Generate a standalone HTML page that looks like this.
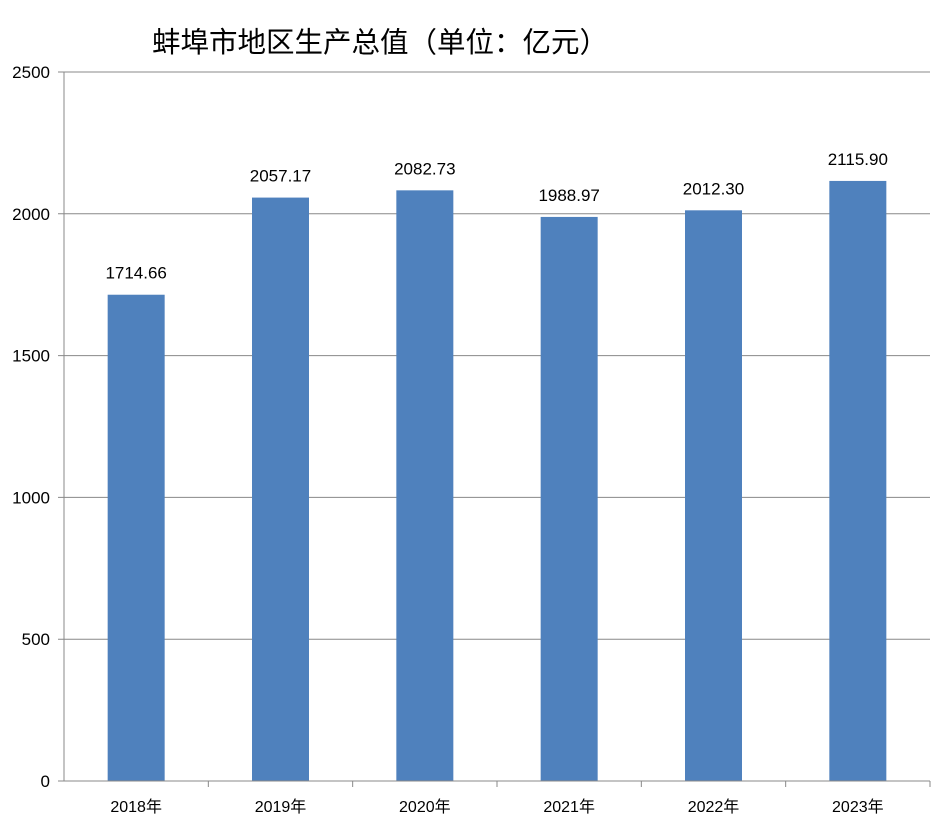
<!DOCTYPE html>
<html><head><meta charset="utf-8"><style>
body{margin:0;background:#fff;width:950px;height:832px;overflow:hidden}
svg text{font-family:"Liberation Sans","Noto Sans CJK SC",sans-serif}
</style></head><body>
<svg id="chart" width="950" height="832" xmlns="http://www.w3.org/2000/svg">
<text x="152" y="52" font-size="28.5" fill="#000">蚌埠市地区生产总值（单位：亿元）</text>
<g id="grid"></g><g id="bars"></g><g id="axes"></g>
</svg>
<script>
const categories=["2018年","2019年","2020年","2021年","2022年","2023年"];
const values=[1714.66,2057.17,2082.73,1988.97,2012.30,2115.90];
const valueLabels=["1714.66","2057.17","2082.73","1988.97","2012.30","2115.90"];
const yTicks=[0,500,1000,1500,2000,2500];
const NS="http://www.w3.org/2000/svg";
const x0=64,x1=930,yBase=781,yTop=72,yMax=2500;
const slot=(x1-x0)/categories.length;
const yS=v=>yBase-(v/yMax)*(yBase-yTop);
function mk(tag,attrs,parent,txt){const e=document.createElementNS(NS,tag);for(const k in attrs)e.setAttribute(k,attrs[k]);if(txt!==undefined)e.textContent=txt;document.getElementById(parent).appendChild(e);return e;}
yTicks.forEach(t=>{
 const y=yS(t);
 const g=mk('line',{x1:58,x2:x1,y1:y,y2:y,stroke:'#888','stroke-width':1},'grid');
 
 
 const l=mk('text',{x:50,y:y+6,'font-size':17,'text-anchor':'end',fill:'#000'},'axes',String(t));
 
 
});
const ya=mk('line',{x1:x0,x2:x0,y1:yTop,y2:yBase,stroke:'#888'},'axes');


categories.forEach((c,i)=>{
 const cx=x0+slot*(i+0.5),w=57;
 const b=mk('rect',{x:cx-w/2,y:yS(values[i]),width:w,height:yBase-yS(values[i]),fill:'#4f81bd'},'bars');
 
 
 const v=mk('text',{x:cx,y:yS(values[i])-16,'font-size':17,'text-anchor':'middle',fill:'#000'},'bars',valueLabels[i]);
 
 
 const l=mk('text',{x:cx,y:812,'font-size':16,'text-anchor':'middle',fill:'#000','font-family':'"Liberation Serif","Noto Serif CJK SC",serif'},'axes',c);
 
 
 const tk=mk('line',{x1:x0+slot*(i+1),x2:x0+slot*(i+1),y1:yBase,y2:yBase+6,stroke:'#888'},'axes');
 
 
});
const xa=mk('line',{x1:x0,x2:x1,y1:yBase,y2:yBase,stroke:'#888'},'axes');


</script>
</body></html>
